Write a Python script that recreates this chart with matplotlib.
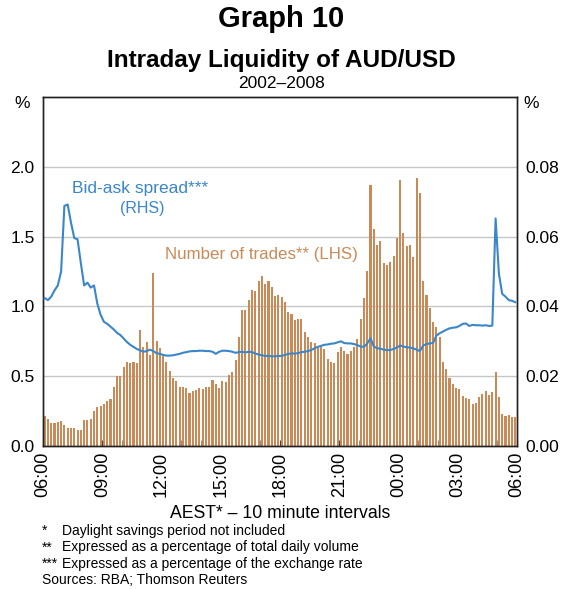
import numpy as np
import matplotlib
matplotlib.use("Agg")
import matplotlib.pyplot as plt

plt.rcParams['font.family'] = ['Liberation Sans', 'DejaVu Sans']

# number of trades, % of total daily volume (LHS), one bar per 10 minutes from 06:00
trades = [
    0.215, 0.195, 0.167, 0.167, 0.172, 0.179, 0.15, 0.13, 0.13, 0.13, 0.113, 0.113,
    0.188, 0.188, 0.195, 0.25, 0.28, 0.286, 0.303, 0.325, 0.338, 0.42, 0.50, 0.50,
    0.566, 0.60, 0.592, 0.60, 0.592, 0.83, 0.71, 0.747, 0.65, 1.236, 0.75, 0.70,
    0.645, 0.60, 0.54, 0.49, 0.465, 0.42, 0.42, 0.413, 0.377, 0.394, 0.40, 0.413,
    0.406, 0.42, 0.42, 0.473, 0.444, 0.413, 0.465, 0.458, 0.508, 0.53, 0.616, 0.778,
    0.974, 0.974, 1.045, 1.117, 1.107, 1.18, 1.217, 1.16, 1.18, 1.14, 1.074, 1.081,
    1.069, 1.029, 0.96, 0.943, 0.902, 0.909, 0.909, 0.814, 0.778, 0.745, 0.737, 0.70,
    0.709, 0.694, 0.623, 0.60, 0.592, 0.67, 0.706, 0.68, 0.659, 0.68, 0.706, 0.77,
    0.909, 1.057, 1.255, 1.869, 1.558, 1.44, 1.468, 1.313, 1.296, 1.32, 1.36, 1.487,
    1.905, 1.527, 1.432, 1.44, 1.356, 1.921, 1.809, 1.181, 1.081, 0.99, 0.888, 0.854,
    0.783, 0.601, 0.551, 0.489, 0.444, 0.418, 0.408, 0.358, 0.346, 0.337, 0.301, 0.31,
    0.351, 0.372, 0.396, 0.365, 0.389, 0.532, 0.351, 0.229, 0.215, 0.222, 0.208, 0.208,
]

# bid-ask spread, % of exchange rate (RHS)
spread = [
    0.0424, 0.0418, 0.0428, 0.0446, 0.0460, 0.0500, 0.0688, 0.0692, 0.0640, 0.0596, 0.0592, 0.0524,
    0.0460, 0.0468, 0.0454, 0.0460, 0.0408, 0.0376, 0.0356, 0.0350, 0.0342, 0.0334, 0.0324, 0.0318,
    0.0308, 0.0298, 0.0290, 0.0284, 0.0278, 0.0274, 0.0270, 0.0272, 0.0276, 0.0272, 0.0266, 0.0264,
    0.0261, 0.0259, 0.0259, 0.0260, 0.0262, 0.0264, 0.0267, 0.0269, 0.0271, 0.0272, 0.0272, 0.0273,
    0.0273, 0.0272, 0.0272, 0.0270, 0.0264, 0.0270, 0.0273, 0.0273, 0.0272, 0.0270, 0.0267, 0.0269,
    0.0270, 0.0268, 0.0270, 0.0269, 0.0265, 0.0262, 0.0260, 0.0258, 0.0258, 0.0257, 0.0257, 0.0258,
    0.0258, 0.0261, 0.0264, 0.0265, 0.0265, 0.0266, 0.0269, 0.0270, 0.0272, 0.0275, 0.0280, 0.0284,
    0.0287, 0.0290, 0.0291, 0.0293, 0.0294, 0.0297, 0.0300, 0.0295, 0.0294, 0.0294, 0.0292, 0.0289,
    0.0285, 0.0284, 0.0294, 0.0309, 0.0285, 0.0280, 0.0279, 0.0276, 0.0275, 0.0275, 0.0278, 0.0282,
    0.0288, 0.0285, 0.0283, 0.0282, 0.0280, 0.0276, 0.0272, 0.0288, 0.0292, 0.0294, 0.0295, 0.0316,
    0.0323, 0.0328, 0.0333, 0.0337, 0.0339, 0.0340, 0.0344, 0.0350, 0.0351, 0.0344, 0.0347, 0.0346,
    0.0346, 0.0345, 0.0346, 0.0344, 0.0345, 0.0652, 0.0494, 0.0436, 0.0428, 0.0418, 0.0416, 0.0412,
]

time_labels = ["06:00", "09:00", "12:00", "15:00", "18:00", "21:00", "00:00", "03:00", "06:00"]

bar_col = "#c98a57"
line_col = "#3a86c8"

fig = plt.figure(figsize=(5.63, 5.89), dpi=100)
ax = fig.add_axes([43 / 563, 1 - 446 / 589, 474 / 563, 349 / 589])
ax2 = ax.twinx()

x = np.arange(len(trades)) + 0.5
ax.bar(x, trades, width=0.64, color=bar_col, zorder=2)
ax2.plot(np.arange(len(spread)) + 0.5, spread, color=line_col, lw=1.5, zorder=3)

ax.set_xlim(0, 144)
ax.set_ylim(0, 2.5)
ax2.set_ylim(0, 0.10)
ax.set_yticks([0, 0.5, 1.0, 1.5, 2.0])
ax.set_yticklabels(["0.0", "0.5", "1.0", "1.5", "2.0"])
ax2.set_yticks([0, 0.02, 0.04, 0.06, 0.08])
ax2.set_yticklabels(["0.00", "0.02", "0.04", "0.06", "0.08"])
for y in [0.5, 1.0, 1.5, 2.0]:
    ax.axhline(y, color="#c3c7c7", lw=1, zorder=1)

ax.set_xticks(np.arange(0, 145, 18))
ax.set_xticklabels(time_labels, rotation=90, fontsize=13)
ax.set_xticks(np.arange(0, 145, 6), minor=True)
ax.tick_params(axis="x", which="major", direction="in", length=4, color="#444", pad=4)
ax.tick_params(axis="x", which="minor", direction="in", length=4, color="#777")
ax.tick_params(axis="y", length=0, labelsize=12.5, pad=6)
ax2.tick_params(axis="y", length=0, labelsize=12.5, pad=6)

for a in (ax, ax2):
    for s in a.spines.values():
        s.set_linewidth(1)
        s.set_color("#222")

fig.text(22 / 563, 1 - 103 / 589, "%", fontsize=12.5, ha="center", va="center")
fig.text(531 / 563, 1 - 103 / 589, "%", fontsize=12.5, ha="center", va="center")

fig.text(0.5, 1 - 19 / 589, "Graph 10", fontsize=21, fontweight="bold", ha="center", va="center")
fig.text(0.5, 1 - 60 / 589, "Intraday Liquidity of AUD/USD", fontsize=17.5, fontweight="bold",
         ha="center", va="center")
fig.text(0.5, 1 - 84 / 589, "2002\u20132008", fontsize=12.5, ha="center", va="center")

fig.text(140 / 563, 1 - 188 / 589, "Bid-ask spread***", fontsize=12.5, color=line_col,
         ha="center", va="center")
fig.text(142 / 563, 1 - 208 / 589, "(RHS)", fontsize=11.5, color=line_col, ha="center", va="center")
fig.text(261 / 563, 1 - 255 / 589, "Number of trades** (LHS)", fontsize=12.2, color=bar_col,
         ha="center", va="center")

fig.text(280 / 563, 1 - 514 / 589, "AEST* \u2013 10 minute intervals", fontsize=12.7,
         ha="center", va="center")

notes = [("*", "Daylight savings period not included"),
         ("**", "Expressed as a percentage of total daily volume"),
         ("***", "Expressed as a percentage of the exchange rate")]
for i, (mark, txt) in enumerate(notes):
    yy = 1 - (531 + i * 16.3) / 589
    fig.text(42 / 563, yy, mark, fontsize=10, ha="left", va="center")
    fig.text(62 / 563, yy, txt, fontsize=10, ha="left", va="center")
fig.text(42 / 563, 1 - 580 / 589, "Sources: RBA; Thomson Reuters", fontsize=10, ha="left", va="center")

fig.savefig("out.png", dpi=100)
